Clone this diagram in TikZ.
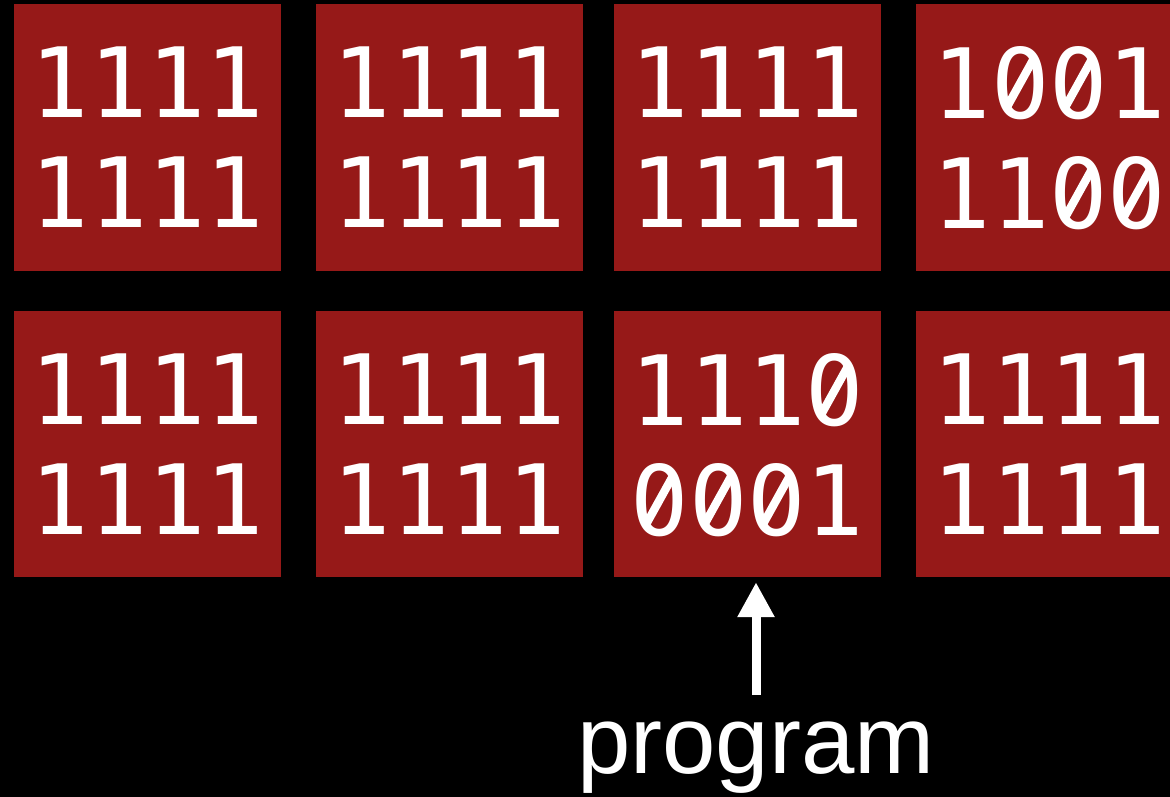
\documentclass[tikz,border=0pt]{standalone}
\usepackage{fontspec}
\usepackage{graphicx}
\setmainfont{Liberation Sans}
\newfontfamily\digitfont{DejaVu Sans Mono}
\usetikzlibrary{arrows.meta}
\definecolor{cellred}{RGB}{150,25,24}
\newcommand\szero{\ooalign{0\cr
  \hidewidth\raisebox{0.185em}{\textcolor{cellred}{\rule{0.2em}{0.36em}}}\hidewidth\cr
  \hidewidth\raisebox{0.125em}{\rotatebox{-29}{\rule{0.085em}{0.6em}}}\hidewidth\cr}}
\tikzset{
  cell/.style={fill=cellred, draw=none, minimum width=267pt, minimum height=266pt,
    inner sep=0pt, text=white, align=center,
    font=\digitfont\fontsize{97}{110}\selectfont},
  label/.style={text=white, inner sep=0pt, font=\fontsize{96}{110}\selectfont}
}
\begin{document}
\begin{tikzpicture}[x=1pt,y=-1pt]
\fill[black] (0,0) rectangle (1170,797);
\useasboundingbox (0,0) rectangle (1170,797);
\node[cell] (a1) at (147.5,137.5) {1111\\1111};
\node[cell] (a2) at (449.5,137.5) {1111\\1111};
\node[cell] (a3) at (747.5,137.5) {1111\\1111};
\node[cell] (a4) at (1049.5,137.5) {1\szero\szero1\\11\szero\szero};
\node[cell] (b1) at (147.5,444) {1111\\1111};
\node[cell] (b2) at (449.5,444) {1111\\1111};
\node[cell] (b3) at (747.5,444) {111\szero\\\szero\szero\szero1};
\node[cell] (b4) at (1049.5,444) {1111\\1111};
\node[label, anchor=base] (prog) at (756,773) {program};
\coordinate (tail) at (756,695);
\draw[white, line width=9pt, -{Triangle[width=35pt,length=35pt]}, shorten >=5pt] (tail) -- (b3.south -| tail);
\end{tikzpicture}
\end{document}
